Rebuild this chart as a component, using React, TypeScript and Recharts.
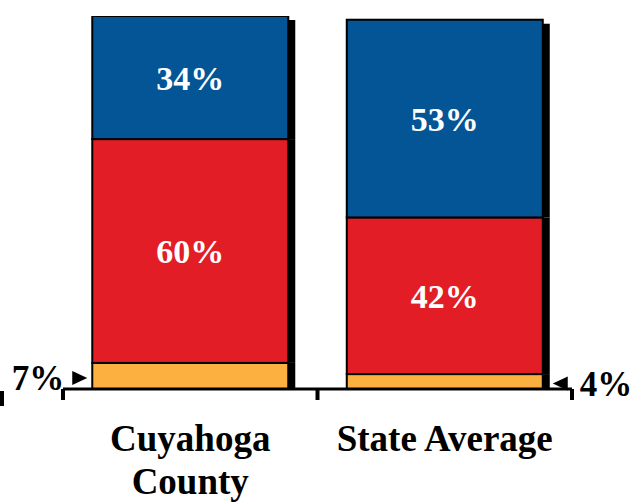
import { BarChart, Bar, XAxis, YAxis, LabelList } from 'recharts'

const categories = ['Cuyahoga County', 'State Average']
const tickLabels = [['Cuyahoga', 'County'], ['State Average']]
const lowShare = [7, 4]
const midShare = [60, 42]
const highShare = [34, 53]

const colors = {
  low: '#FBB03F',
  mid: '#E31D25',
  high: '#035596',
}

const data = categories.map((name, i) => ({
  name,
  low: lowShare[i],
  mid: midShare[i],
  high: highShare[i],
}))

const FONT = "'Liberation Serif', 'Times New Roman', serif"
const BAND = (633 - 63 - 61) / 2

// segment with a black drop shadow on its right side
const SegmentShape = (props: any) => {
  const { x, y, width, height, fill, isTop } = props
  if (!height) return null
  const off = isTop ? 4 : 0
  return (
    <g>
      <rect x={x + width} y={y + off} width={7} height={height - off} fill="#000" />
      <rect x={x} y={y} width={width} height={height} fill={fill} stroke="#000" strokeWidth={2} />
    </g>
  )
}

const AxisTick = (props: any) => {
  const { x, y, index } = props
  const lines = tickLabels[index] || []
  const left = x - BAND / 2
  const right = x + BAND / 2
  return (
    <g>
      <line x1={left} x2={left} y1={y} y2={y + 11} stroke="#000" strokeWidth={4} />
      {index === tickLabels.length - 1 && (
        <line x1={right} x2={right} y1={y} y2={y + 11} stroke="#000" strokeWidth={4} />
      )}
      {index === 0 && <line x1={2} x2={2} y1={y + 2} y2={y + 17} stroke="#000" strokeWidth={4} />}
      {lines.map((t, i) => (
        <text
          key={t}
          x={x}
          y={y + 62 + i * 43}
          textAnchor="middle"
          fontFamily={FONT}
          fontWeight="bold"
          fontSize={37}
          fill="#000"
        >
          {t}
        </text>
      ))}
    </g>
  )
}

// small orange segments get their label outside with an arrow
const OutsideLabel = (props: any) => {
  const { x, y, width, height, value, index } = props
  const cy = y + height / 2 + 2
  if (index === 0) {
    const tip = x - 5
    return (
      <g>
        <polygon points={`${tip},${cy} ${tip - 15},${cy - 7} ${tip - 15},${cy + 7}`} fill="#000" />
        <text x={x - 28} y={cy + 12} textAnchor="end" fontFamily={FONT} fontWeight="bold" fontSize={35} fill="#000">
          {`${value}%`}
        </text>
      </g>
    )
  }
  const tip = x + width + 10
  return (
    <g>
      <polygon points={`${tip},${cy} ${tip + 15},${cy - 7} ${tip + 15},${cy + 7}`} fill="#000" />
      <text x={x + width + 37} y={cy + 12} textAnchor="start" fontFamily={FONT} fontWeight="bold" fontSize={35} fill="#000">
        {`${value}%`}
      </text>
    </g>
  )
}

const innerLabel = {
  fill: '#fff',
  fontFamily: FONT,
  fontWeight: 'bold',
  fontSize: 34,
}

export default function App() {
  return (
    <div style={{ position: 'absolute', left: 0, top: 0, background: '#fff' }}>
      <BarChart
        width={633}
        height={503}
        data={data}
        margin={{ top: 16, right: 61, left: 63, bottom: 0 }}
        barCategoryGap="11.5%"
      >
        <YAxis hide domain={[0, 100]} allowDataOverflow />
        <XAxis
          dataKey="name"
          height={114}
          tickLine={false}
          tickSize={0}
          tickMargin={0}
          axisLine={{ stroke: '#000', strokeWidth: 3 }}
          tick={<AxisTick />}
          interval={0}
        />
        <Bar dataKey="low" stackId="a" fill={colors.low} isAnimationActive={false} shape={<SegmentShape />}>
          <LabelList dataKey="low" content={<OutsideLabel />} />
        </Bar>
        <Bar dataKey="mid" stackId="a" fill={colors.mid} isAnimationActive={false} shape={<SegmentShape />}>
          <LabelList dataKey="mid" position="center" formatter={(v: any) => `${v}%`} style={innerLabel} />
        </Bar>
        <Bar dataKey="high" stackId="a" fill={colors.high} isAnimationActive={false} shape={<SegmentShape isTop />}>
          <LabelList dataKey="high" position="center" formatter={(v: any) => `${v}%`} style={innerLabel} />
        </Bar>
      </BarChart>
    </div>
  )
}
